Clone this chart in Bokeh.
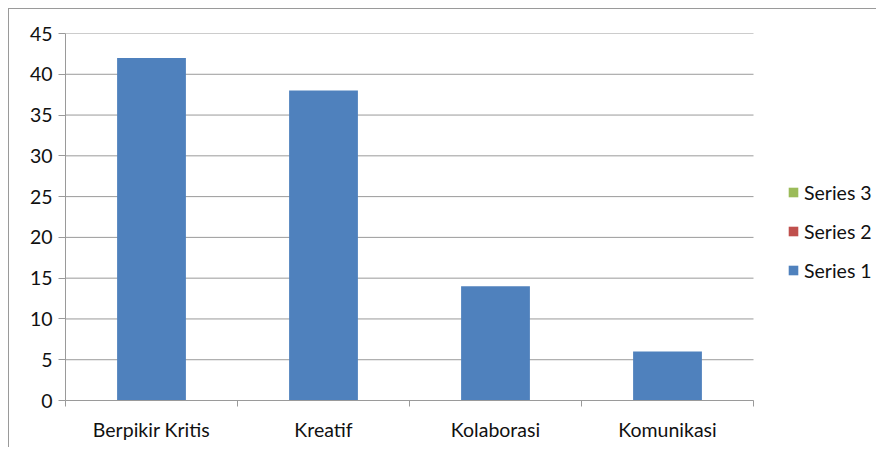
from bokeh.plotting import figure
from bokeh.models import Range1d, FixedTicker, Legend, LegendItem, ColumnDataSource
from bokeh.embed import file_html
from bokeh.resources import INLINE

categories = ["Berpikir Kritis", "Kreatif", "Kolaborasi", "Komunikasi"]
series1 = [42, 38, 14, 6]
series2 = [0, 0, 0, 0]
series3 = [0, 0, 0, 0]
y_ticks = [0, 5, 10, 15, 20, 25, 30, 35, 40, 45]
series_names = ["Series 1", "Series 2", "Series 3"]
series_colors = ["#4F81BD", "#C0504D", "#9BBB59"]

FONT = "Lato"
GRAY = "#9a9a9a"
TEXT = "#111111"

n = len(categories)
x_centers = [i + 0.5 for i in range(n)]
boundaries = list(range(n + 1))

# plot area spans 688 px for the categories; the frame continues to the right to host the legend
FRAME_W = 812
PLOT_W = 688
x_end = n * FRAME_W / PLOT_W

p = figure(width=868, height=439, output_backend="svg", toolbar_location=None,
           x_range=Range1d(0, x_end), y_range=Range1d(0, y_ticks[-1]),
           min_border_left=56, min_border_right=0, min_border_top=24, min_border_bottom=48)
p.styles = {"border-top": "1px solid " + GRAY, "border-left": "1px solid " + GRAY,
            "margin-top": "8px", "margin-left": "8px"}
p.outline_line_color = None
p.background_fill_color = "white"
p.border_fill_color = "white"

# gridlines, limited to the category span
p.segment(x0=[0] * len(y_ticks), x1=[n] * len(y_ticks), y0=y_ticks, y1=y_ticks,
          line_color=GRAY, line_width=1)

src = ColumnDataSource(dict(x=x_centers, s1=series1, s2=series2, s3=series3))
r1, r2, r3 = p.vbar_stack(["s1", "s2", "s3"], x="x", width=0.4, source=src,
                          fill_color=series_colors, line_color=None)

# y axis
yax = p.yaxis[0]
yax.ticker = FixedTicker(ticks=y_ticks)
yax.major_tick_out = 7
yax.major_tick_in = 0
yax.minor_tick_out = 0
yax.minor_tick_in = 0
yax.axis_line_color = GRAY
yax.major_tick_line_color = GRAY
yax.major_label_standoff = 6
yax.major_label_text_font = FONT
yax.major_label_text_font_size = "19.5px"
yax.major_label_text_color = TEXT

# x axis
xax = p.xaxis[0]
xax.bounds = (0, n)
xax.ticker = FixedTicker(ticks=x_centers, minor_ticks=boundaries)
xax.major_label_overrides = {c: lab for c, lab in zip(x_centers, categories)}
xax.major_tick_out = 0
xax.major_tick_in = 0
xax.minor_tick_out = 6
xax.minor_tick_in = 0
xax.minor_tick_line_color = GRAY
xax.axis_line_color = GRAY
xax.major_label_standoff = 11
xax.major_label_text_font = FONT
xax.major_label_text_font_size = "19.5px"
xax.major_label_text_color = TEXT

p.xgrid.grid_line_color = None
p.ygrid.grid_line_color = None

legend = Legend(items=[LegendItem(label=series_names[2], renderers=[r3]),
                       LegendItem(label=series_names[1], renderers=[r2]),
                       LegendItem(label=series_names[0], renderers=[r1])],
                location=(722, 118), orientation="vertical",
                padding=0, margin=0, spacing=15,
                glyph_width=12, glyph_height=12, label_height=24, label_standoff=5,
                label_text_font=FONT, label_text_font_size="19.5px", label_text_color=TEXT,
                border_line_color=None, background_fill_alpha=0)
p.add_layout(legend, "center")

open("out.html", "w").write(file_html(p, INLINE))
